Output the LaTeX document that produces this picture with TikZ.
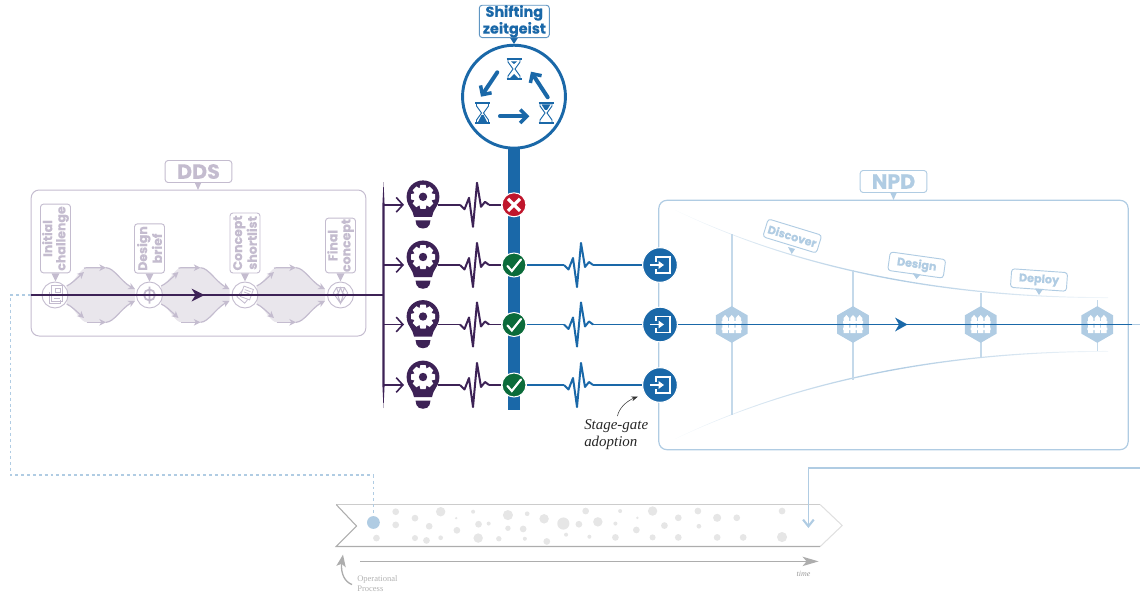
\documentclass[tikz,border=0pt]{standalone}
\usepackage{fontspec}
\setmainfont{Liberation Serif}
\newfontfamily\tagfont{Poppins}[BoldFont={Poppins Bold},BoldFeatures={FakeBold=0.3}]
\usetikzlibrary{arrows.meta,calc,shapes.geometric,bending}
\definecolor{pur}{HTML}{3D2256}
\definecolor{lpur}{HTML}{C4BCCF}
\definecolor{fpur}{HTML}{E9E6EC}
\definecolor{blu}{HTML}{1A68A8}
\definecolor{lblu}{HTML}{B0CCE3}
\definecolor{grn}{HTML}{0B6B3A}
\definecolor{redd}{HTML}{C0162C}
\definecolor{dotg}{HTML}{E6E6E6}
\tikzset{
 x=.75pt,y=-.75pt,
 tag/.style={draw,fill=white,rounded corners=2.2pt,line width=.7pt,inner sep=0pt,align=center,font=\tagfont\bfseries},
 vtag/.style={tag,draw=lpur,text=lpur,rotate=90,minimum height=22.5pt,font=\tagfont\bfseries\fontsize{9.4}{9.9}\selectfont},
 rtag/.style={tag,draw=lblu,text=lblu,minimum width=42pt,minimum height=14pt,font=\tagfont\bfseries\fontsize{8.4}{9}\selectfont},
 stepdot/.style={circle,draw=lpur,fill=white,line width=.7pt,minimum size=19.5pt,inner sep=0pt},
 gate/.style={circle,fill=blu,draw=white,line width=.8pt,minimum size=26pt,inner sep=0pt},
 verdict/.style={circle,draw=white,line width=.8pt,minimum size=18pt,inner sep=0pt},
 hexa/.style={regular polygon,regular polygon sides=6,shape border rotate=30,fill=lblu,minimum size=27.5pt,inner sep=0pt},
 flowtip/.style={-{Stealth[length=5pt,width=5pt,inset=1.5pt]},draw=lpur,line width=.9pt},
 pulse/.pic={\draw[pic actions,line width=1.5pt,line join=round] (0,0)--(4.5,4.5)--(9,-7)--(13,22)--(17,-22)--(21,2)--(25,-3)--(29,0);},
 bulb/.pic={
  \fill[pur] (0,0) circle[radius=16.4];
  \fill[pur] (-16,3) .. controls (-15,10) and (-10,13) .. (-9,20) -- (9,20) .. controls (10,13) and (15,10) .. (16,3) -- cycle;
  \fill[pur] (-7.5,23.5)--(7.5,23.5)--(6.5,28) .. controls (5,33) and (-5,33) .. (-6.5,28)--cycle;
  \fill[white] (0,0) circle[radius=9.3];
  \foreach \a in {0,45,...,315}{\fill[white,rotate=\a] (-2.6,-12)--(2.6,-12)--(3.8,-7)--(-3.8,-7)--cycle;}
  \fill[pur] (0,0) circle[radius=4.2];
 },
 glass/.pic={
  \draw[blu,line width=1.1pt] (-7.5,-10)--(7.5,-10) (-7.5,10)--(7.5,10);
  \draw[blu,line width=.7pt] (-6,-10)--(-6,-7)--(-1,0)--(-6,7)--(-6,10) (6,-10)--(6,-7)--(1,0)--(6,7)--(6,10);
 },
 entry/.pic={
  \draw[white,line width=1.3pt] (-4,-3.5)--(-4,-8)--(10,-8)--(10,8)--(-4,8)--(-4,3.5);
  \draw[white,line width=1.3pt,-{Stealth[length=4pt,width=5.5pt,inset=0pt]}] (-10,0)--(4,0);
 },
 fence/.pic={
  \foreach \d in {-6.6,0,6.6}{\fill[white] (\d-2.7,-6.5)--(\d,-9.5)--(\d+2.7,-6.5)--(\d+2.7,8.5)--(\d-2.7,8.5)--cycle;}
  \fill[white] (-10,-3.5)rectangle(10,-1) (-10,3)rectangle(10,5.5);
 },
}
\begin{document}
\begin{tikzpicture}
\useasboundingbox (0,0) rectangle (1140,592);
% ---- operational band
\draw[line width=.8pt,draw=black!20] (336.2,504.6)--(820.2,504.6);
\draw[line width=.8pt,draw=black!12] (820.2,504.6)--(842.2,525.5)--(820.2,546.5);
\draw[line width=.8pt,draw=black!32] (820.2,546.5)--(336.2,546.5)--(356.5,526)--(336.2,504.6);
\foreach \X/\Y/\R in {224/153/10,224/192/10,167/231/10,281/172/10,323/196/10,357/153/14,403/172/4,405/208/10,281/231/9,315/238/10,357/230/7,453/153/6,469/190/10,499/188/6,468/231/14,529/233/8,556/163/15,556/202/8,613/159/7,601/204/10,606/233/6,663/174/14,720/188/18,671/241/10,728/221/6,766/190/10,786/151/10,822/183/14,797/227/6,874/188/6,874/229/10,888/151/6,939/171/4,936/207/10,984/151/14,984/229/9,1019/194/10,1060/171/10,1060/229/10,1118/151/10,1121/196/7,1175/171/12,1175/229/10,1233/171/10,1252/229/10,1367/151/10,1367/228/15}
 {\fill[dotg] ({320+\X*.338},{460+\Y*.338}) circle[radius=\R*.2535pt];}
\node[circle,fill=lblu,minimum size=9.6pt,inner sep=0pt] (opdot) at (373.4,522.5) {};
\coordinate (t0) at (360,561.4); \coordinate (t1) at (818.6,561.4);
\draw[line width=1pt,draw=black!32,-{Stealth[length=12pt,width=7pt,inset=3pt]}] (t0)--(t1);
\node[text=black!40,font=\itshape\fontsize{6}{7}\selectfont] (timel) at (803.5,573.5) {time};
\node[text=black!30,font=\fontsize{6.4}{7.6}\selectfont,align=left,anchor=south west,inner sep=0pt] (opl) at (357,591.5) {Operational\\Process};
\coordinate (op0) at (352,584.6); \coordinate (op1) at (343,554.6);
\draw[line width=1pt,draw=black!32,-{Stealth[length=9pt,width=7pt,inset=2pt]}] (op0) .. controls (343,581) and (339,570) .. (op1);
% ---- dashed and solid links
\coordinate (da) at (31,295); \coordinate (db) at (10.5,295); \coordinate (dc) at (10.5,475); \coordinate (dd) at (373.4,475);
\draw[lblu,line width=.9pt,dash pattern=on 2.2pt off 2.2pt] (da)--(db)--(dc)--(dd)--(opdot);
\coordinate (sa) at (1140,468); \coordinate (sb) at (808.4,468); \coordinate (sc) at (808.4,528);
\draw[lblu,line width=1pt,-{Straight Barb[length=5pt,width=8pt,line width=1.6pt]}] (sa)--(sb)--(sc);
% ---- DDS
\node[draw=lpur,line width=.75pt,rounded corners=6pt,minimum width=251pt,minimum height=109.5pt,inner sep=0] (ddsbox) at (198.5,263) {};
\fill[lpur] (194,181)--(202,181)--(198,190)--cycle;
\node[tag,draw=lpur,text=lpur,minimum width=50pt,minimum height=16.5pt,font=\tagfont\bfseries\fontsize{15.5}{16}\selectfont] (ddsl) at (198.5,171.5) {DDS};
\foreach \o in {0,94.5,190}{
 \begin{scope}[xshift=\o*.75pt]
 \fill[fpur] (66.7,286) .. controls (76,281) and (80,268) .. (86.7,267.7) -- (106,267.7) .. controls (115,268) and (122,284) .. (135,289.3) -- (135,300.7) .. controls (122,306) and (115,322) .. (106,322.3) -- (86.7,322.3) .. controls (80,322) and (76,309) .. (66.7,304) -- cycle;
 \draw[flowtip] (66.7,286) .. controls (73,283) and (78,277) .. (84,272);
 \draw[flowtip] (84,268.2) .. controls (85,267.8) and (86,267.7) .. (86.7,267.7) -- (106,267.7);
 \draw[flowtip] (106,267.7) .. controls (115,268) and (122,284) .. (135,289);
 \draw[flowtip] (66.7,304) .. controls (73,307) and (78,313) .. (84,318);
 \draw[flowtip] (86.7,322.3) -- (106,322.3);
 \draw[flowtip] (106,322.3) .. controls (115,322) and (122,306) .. (135,301);
 \end{scope}}
\node[stepdot] (s1) at (55,295) {};
\node[stepdot] (s2) at (149.5,295) {};
\node[stepdot] (s3) at (245,295) {};
\node[stepdot] (s4) at (340.5,295) {};
\node[vtag,minimum width=51.5pt] (v1) at (55.5,238.5) {Initial\\challenge};
\node[vtag,minimum width=37pt] (v2) at (149.5,248.5) {Design\\brief};
\node[vtag,minimum width=45pt] (v3) at (245,243) {Concept\\shortlist};
\node[vtag,minimum width=41pt] (v4) at (340.5,245.5) {Final\\concept};
\foreach \n in {v1,v2,v3,v4}{\fill[lpur] ($(\n.west)+(-4,0)$)--($(\n.west)+(4,0)$)--($(\n.west)+(0,8)$)--cycle;}
% step icons
\draw[lpur,line width=.6pt] (49,292)--(49,303)--(60,303)--(60,300) (51.5,289)--(51.5,285)--(62,285)--(62,301)--(51.5,301)--(51.5,289) (55,288)rectangle(60,292) (54,295)--(60,295) (54,298)--(60,298);
\draw[lpur,line width=1.3pt] (149.5,295) circle[radius=5.5] (149.5,286.5)--(149.5,303.5);
\begin{scope}[shift={(245,295)}]
 \draw[lpur,line width=.6pt,rotate=-40,shift={(0,1.5)}] (-5,-5)rectangle(5,5);
 \draw[lpur,line width=.6pt,fill=white,rotate=-20] (-4,-8)rectangle(6,3);
 \draw[lpur,line width=.6pt,rotate=-20] (-2,-5)--(4,-5) (-2,-2.5)--(4,-2.5);
\end{scope}
\draw[lpur,line width=.7pt] (333.3,293)--(336.5,287.7)--(344.5,287.7)--(347.7,293)--(340.5,303.3)--cycle (337,293)--(340.5,303.3)--(344,293) (336.5,287.7)--(338.5,293)--(340.5,287.7)--(342.5,293)--(344.5,287.7);
% ---- purple spine
\fill[pur] (383.5,182)--(384.6,205)--(384.6,385)--(383.5,408)--(382.4,385)--(382.4,205)--cycle;
\coordinate (mstart) at (31,295); \coordinate (mend) at (383,295);
\draw[pur,line width=1.2pt] (mstart)--(mend);
\fill[pur] (204.5,295)--(191.5,288.5)--(195.5,295)--(191.5,301.5)--cycle;
% ---- blue column
\fill[blu] (508,140) rectangle (520,410);
\node[circle,draw=blu,fill=white,line width=2.2pt,minimum size=77.2pt,inner sep=0pt] (zc) at (514,96.7) {};
\pic at (514,69) {glass}; \fill[blu] (509.5,78.5)--(518.5,78.5)--(514,74)--cycle;
\fill[blu] (514,64)--(511,61.5)--(517,61.5)--cycle;
\pic at (482.5,113) {glass}; \fill[blu] (478,122)--(487,122)--(483.5,115)--(481.5,115)--cycle;
\pic at (546,113) {glass}; \fill[blu] (541.5,104.5)--(550.5,104.5)--(547,110)--(545,110)--cycle;
\tikzset{zarr/.style={blu,line width=3pt,-{Straight Barb[length=5pt,width=10pt,line width=2.6pt]},line cap=round}}
\coordinate (za1) at (497.3,72.3); \coordinate (za2) at (481,96.7);
\coordinate (zb1) at (547.7,97.3); \coordinate (zb2) at (531,71.7);
\coordinate (zc1) at (500,116.3); \coordinate (zc2) at (529.3,116.3);
\draw[zarr] (za1)--(za2); \draw[zarr] (zb1)--(zb2); \draw[zarr] (zc1)--(zc2);
\fill[blu] (509.5,37)--(518.5,37)--(514,44)--cycle;
\node[tag,draw=blu!70,text=blu,minimum width=52.5pt,minimum height=23.5pt,font=\tagfont\bfseries\fontsize{10.8}{9.8}\selectfont] (zl) at (514.3,21.4) {Shifting\\zeitgeist};
% ---- NPD frame
\node[draw=lblu,line width=.9pt,rounded corners=6pt,minimum width=352pt,minimum height=187pt,inner sep=0] (npd) at (893.5,325) {};
\fill[lblu] (889.5,191)--(897.5,191)--(893.5,200)--cycle;
\node[tag,draw=lblu,text=lblu,minimum width=50pt,minimum height=16.5pt,font=\tagfont\bfseries\fontsize{15.5}{16}\selectfont] (npdl) at (893.5,181.5) {NPD};
% funnel
\shade[left color=lblu!15,right color=lblu!15,middle color=lblu] (675,210) .. controls (760,250) and (900,297) .. (1108,297.2) -- (1108,298) .. controls (900,298.6) and (760,251.6) .. (675,210) -- cycle;
\shade[left color=lblu!15,right color=lblu!15,middle color=lblu] (675,439) .. controls (760,399) and (900,352) .. (1108,351.8) -- (1108,351) .. controls (900,350.4) and (760,397.4) .. (675,439) -- cycle;
\coordinate (g1a) at (731.7,234); \coordinate (g1b) at (731.7,415);
\coordinate (g2a) at (853,270); \coordinate (g2b) at (853,380);
\coordinate (g3a) at (980.7,293); \coordinate (g3b) at (980.7,357.5);
\coordinate (g4a) at (1097.3,300); \coordinate (g4b) at (1097.3,351);
\draw[lblu!75,line width=1.2pt] (g1a)--(g1b) (g2a)--(g2b) (g3a)--(g3b) (g4a)--(g4b);
\foreach \n/\x in {h1/731.7,h2/853,h3/980.7,h4/1097.3}{
 \node[hexa] (\n) at (\x,324.5) {};
 \pic at (\x,324.5) {fence};}
% stage labels
\node[rtag,rotate=-17] (ld1) at (792.3,236) {Discover};
\fill[lblu] (788,247)--(795,249)--(791.7,254)--cycle;
\node[rtag,rotate=-8] (ld2) at (916.7,265) {Design};
\fill[lblu] (912.5,273)--(920.5,274.5)--(916.5,279)--cycle;
\node[rtag,rotate=-4] (ld3) at (1039,280) {Deploy};
\fill[lblu] (1035,288.5)--(1043,289)--(1039,295)--cycle;
% blue main
\coordinate (bend) at (1132,324.5); \coordinate (bout) at (1140,324.5);
\draw[lblu,line width=.8pt] (bend)--(bout);
\draw[blu,line width=1.3pt] (678,324.5)--(bend);
\fill[blu] (907.5,324.5)--(895,317.5)--(899,324.5)--(895,331.5)--cycle;
% ---- rows
\foreach \i/\y in {1/204.8,2/265,3/324.5,4/385}{
 \coordinate (a\i) at (384,\y); \coordinate (b\i) at (404,\y);
 \draw[pur,line width=1.1pt,-{Straight Barb[length=5pt,width=11pt,line width=1.2pt]}] (a\i)--(b\i);
 \pic at (423,{\y-8}) {bulb};
 \coordinate (p\i) at (438,\y); \coordinate (q\i) at (460,\y); \coordinate (r\i) at (489,\y); \coordinate (w\i) at (501,\y);
 \draw[pur,line width=1.4pt] (p\i)--(q\i) (r\i)--(w\i);
 \pic[draw=pur] at (q\i) {pulse};
}
\foreach \i/\y in {2/265,3/324.5,4/385}{
 \node[gate] (e\i) at (660,\y) {};
 \coordinate (u\i) at (527,\y); \coordinate (v\i) at (564,\y); \coordinate (k\i) at (593,\y); \coordinate (m\i) at (642,\y);
 \draw[blu,line width=1.4pt] (u\i)--(v\i) (k\i)--(m\i);
 \pic[draw=blu] at (v\i) {pulse};
 \pic at (e\i) {entry};
 \node[verdict,fill=grn] (c\i) at (514,\y) {};
 \draw[white,line width=1.6pt,line cap=round] (507.5,\y+1)--(511.8,\y+6)--(521,\y-5.5);
}
\node[verdict,fill=redd] (x1) at (514,204.8) {};
\draw[white,line width=2.4pt] (508,198.8)--(520,210.8) (520,198.8)--(508,210.8);
% annotation
\node[font=\itshape\fontsize{11.2}{12.8}\selectfont,text=black!85,align=left,anchor=north west,inner sep=0pt] (sg) at (584,419.5) {Stage-gate\\adoption};
\coordinate (sg0) at (617.5,416); \coordinate (sg1) at (638,396.5);
\draw[black!80,line width=.4pt,-{Stealth[length=5pt,width=3.5pt]}] (sg0) .. controls (619,408) and (627,400) .. (sg1);
\end{tikzpicture}
\end{document}
